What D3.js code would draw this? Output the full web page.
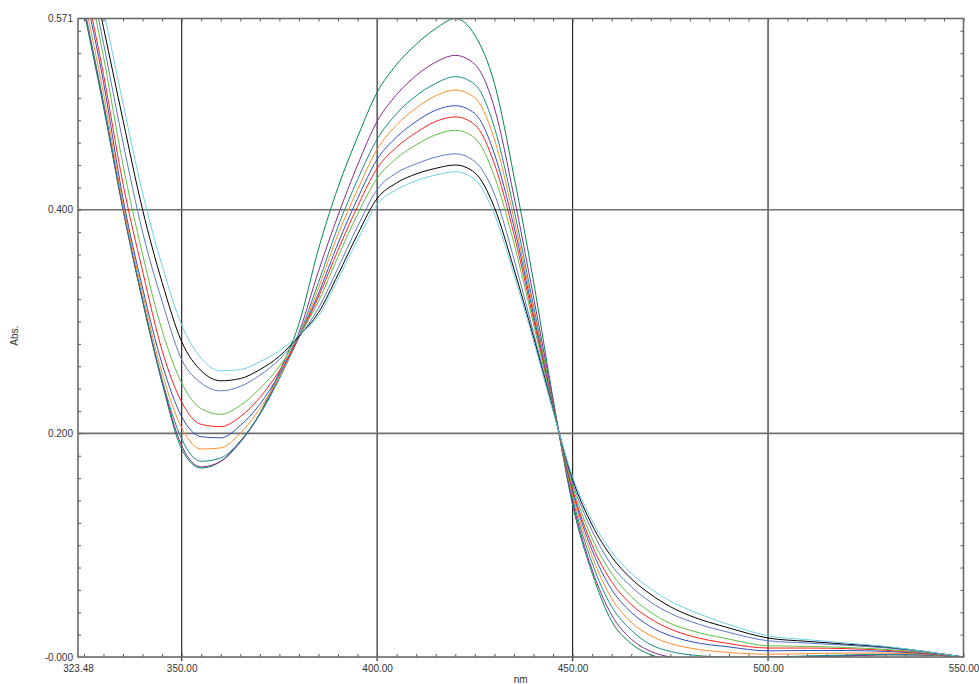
<!DOCTYPE html>
<html>
<head>
<meta charset="utf-8">
<script src="https://cdn.jsdelivr.net/npm/d3@7/dist/d3.min.js"></script>
<style>
  body { margin: 0; background: #fff; }
  svg text { font-family: "Liberation Sans", Arial, sans-serif; font-size: 10px; fill: #333; }
</style>
</head>
<body>
<div id="chart"></div>
<script>
// wavelength grid (nm) shared by every scan
const wavelengths = [320,325,330,335,340,345,350,355,360,365,370,375,380,385,390,395,400,405,410,415,420,425,430,435,440,445,450,455,460,465,470,475,480,490,500,510,520,530,540,550];

// absorbance of each scan
const absDarkGreen = [0.666,0.578,0.492,0.400,0.318,0.245,0.186,0.169,0.175,0.193,0.218,0.255,0.298,0.365,0.420,0.465,0.505,0.530,0.548,0.562,0.571,0.556,0.513,0.430,0.336,0.231,0.136,0.075,0.032,0.012,0.002,-0.002,-0.004,-0.004,-0.003,0.000,0.001,0.002,0.0018,0.000];
const absPurple    = [0.668,0.580,0.494,0.400,0.319,0.246,0.189,0.170,0.175,0.192,0.217,0.251,0.290,0.345,0.395,0.440,0.479,0.503,0.520,0.532,0.538,0.530,0.491,0.412,0.322,0.229,0.139,0.078,0.0375,0.016,0.005,0.000,-0.002,-0.002,-0.002,0.000,0.001,0.002,0.0018,0.000];
const absTeal      = [0.670,0.582,0.496,0.402,0.320,0.248,0.195,0.175,0.178,0.193,0.217,0.249,0.287,0.335,0.385,0.427,0.463,0.486,0.502,0.513,0.519,0.512,0.4735,0.400,0.314,0.226,0.142,0.084,0.045,0.024,0.011,0.005,0.002,0.000,0.000,0.001,0.0018,0.0025,0.002,0.000];
const absOrange    = [0.678,0.590,0.504,0.405,0.325,0.254,0.205,0.186,0.187,0.200,0.222,0.251,0.286,0.330,0.378,0.418,0.454,0.476,0.491,0.502,0.507,0.500,0.463,0.392,0.310,0.226,0.145,0.090,0.0524,0.031,0.019,0.012,0.008,0.004,0.0025,0.003,0.0035,0.0035,0.0025,0.000];
const absBlue      = [0.686,0.600,0.514,0.410,0.330,0.262,0.215,0.197,0.196,0.207,0.226,0.253,0.286,0.325,0.370,0.410,0.445,0.465,0.479,0.489,0.493,0.486,0.450,0.385,0.306,0.225,0.148,0.0955,0.0604,0.040,0.027,0.019,0.014,0.009,0.0055,0.0058,0.0058,0.005,0.003,0.000];
const absRed       = [0.693,0.607,0.521,0.423,0.345,0.274,0.228,0.208,0.206,0.215,0.232,0.256,0.286,0.322,0.364,0.403,0.437,0.456,0.469,0.479,0.483,0.476,0.441,0.378,0.302,0.224,0.150,0.100,0.0673,0.047,0.034,0.025,0.019,0.012,0.008,0.008,0.0075,0.006,0.0035,0.000];
const absGreen     = [0.707,0.622,0.537,0.440,0.360,0.292,0.245,0.222,0.217,0.225,0.240,0.260,0.287,0.318,0.358,0.396,0.428,0.446,0.458,0.467,0.471,0.464,0.430,0.370,0.298,0.223,0.153,0.106,0.0747,0.054,0.040,0.030,0.024,0.016,0.010,0.0095,0.0085,0.0068,0.004,0.000];
const absSteel     = [0.718,0.634,0.549,0.460,0.380,0.318,0.266,0.245,0.238,0.242,0.252,0.266,0.286,0.312,0.348,0.385,0.418,0.433,0.441,0.447,0.450,0.443,0.414,0.356,0.290,0.222,0.156,0.113,0.082,0.063,0.049,0.039,0.032,0.022,0.0145,0.0125,0.0105,0.0082,0.0045,0.000];
const absBlack     = [0.728,0.645,0.563,0.480,0.400,0.335,0.282,0.256,0.247,0.249,0.257,0.269,0.287,0.308,0.342,0.378,0.410,0.424,0.432,0.437,0.440,0.433,0.402,0.347,0.286,0.221,0.159,0.118,0.0896,0.070,0.056,0.045,0.037,0.026,0.017,0.014,0.0115,0.009,0.005,0.000];
const absCyan      = [0.745,0.662,0.579,0.495,0.415,0.350,0.297,0.267,0.256,0.257,0.264,0.274,0.288,0.305,0.338,0.373,0.405,0.418,0.426,0.431,0.434,0.427,0.396,0.342,0.283,0.220,0.161,0.122,0.094,0.075,0.061,0.050,0.042,0.029,0.019,0.0155,0.0125,0.0095,0.005,0.000];

const scans = [absDarkGreen, absPurple, absTeal, absOrange, absBlue, absRed, absGreen, absSteel, absBlack, absCyan];
const scanColors = ["#008850", "#8a2a94", "#1a8a8a", "#ff8c2a", "#2f4fc0", "#ff2020", "#5cc040", "#5a78c8", "#000000", "#6cd0e8"];

// axis ticks
const xTickValues = [323.48, 350, 400, 450, 500, 550];
const xTickLabels = ["323.48", "350.00", "400.00", "450.00", "500.00", "550.00"];
const yTickValues = [0, 0.2, 0.4, 0.571];
const yTickLabels = ["-0.000", "0.200", "0.400", "0.571"];
const xGrid = [350, 400, 450, 500];
const yGrid = [0.2, 0.4];

const margin = { left: 78, right: 15.5, top: 18.5, bottom: 27 };
const W = 979, H = 684;
const width = W - margin.left - margin.right;
const height = H - margin.top - margin.bottom;

const svg = d3.select("#chart")
  .append("svg")
    .attr("width", W)
    .attr("height", H)
  .append("g")
    .attr("transform", "translate(" + margin.left + "," + margin.top + ")");

const x = d3.scaleLinear().domain([323.48, 550]).range([0, width]);
const y = d3.scaleLinear().domain([0, 0.571]).range([height, 0]);

svg.append("clipPath").attr("id", "plot-clip")
  .append("rect").attr("width", width).attr("height", height);

// grid lines
svg.selectAll(".vgrid").data(xGrid).enter().append("line")
  .attr("x1", d => x(d)).attr("x2", d => x(d))
  .attr("y1", 0).attr("y2", height + 4)
  .attr("stroke", "#2a2a2a").attr("stroke-width", 1.2);

svg.selectAll(".hgrid").data(yGrid).enter().append("line")
  .attr("x1", 0).attr("x2", width)
  .attr("y1", d => y(d)).attr("y2", d => y(d))
  .attr("stroke", "#6e6e6e").attr("stroke-width", 1.6);

// minor ticks, pointing inward on all four sides
const xMinor = d3.range(325, 551, 5);
const yMinor = d3.range(1, 29).map(i => i * 0.02);

const minor = [
  { axis: d3.axisBottom(x), tr: "translate(0," + height + ")", v: xMinor },
  { axis: d3.axisTop(x), tr: "translate(0,0)", v: xMinor },
  { axis: d3.axisLeft(y), tr: "translate(0,0)", v: yMinor },
  { axis: d3.axisRight(y), tr: "translate(" + width + ",0)", v: yMinor }
];
minor.forEach(m => {
  const g = svg.append("g").attr("transform", m.tr)
    .call(m.axis.tickValues(m.v).tickSize(-3).tickFormat(""));
  g.select(".domain").remove();
  g.selectAll("line").attr("stroke", "#555");
});

// scans
const line = d3.line()
  .x((d, i) => x(wavelengths[i]))
  .y(d => y(d))
  .curve(d3.curveMonotoneX);

svg.append("g").attr("clip-path", "url(#plot-clip)")
  .selectAll("path").data(scans).enter().append("path")
    .attr("d", line)
    .attr("fill", "none")
    .attr("stroke", (d, i) => scanColors[i])
    .attr("stroke-width", 1);

// frame
svg.append("rect")
  .attr("width", width).attr("height", height)
  .attr("fill", "none").attr("stroke", "#6a6a6a").attr("stroke-width", 1.6);

// tick labels
const xAxisG = svg.append("g").attr("transform", "translate(0," + height + ")")
  .call(d3.axisBottom(x).tickValues(xTickValues).tickSize(0).tickPadding(8)
    .tickFormat((d, i) => xTickLabels[i]));
xAxisG.select(".domain").remove();

const yAxisG = svg.append("g")
  .call(d3.axisLeft(y).tickValues(yTickValues).tickSize(0).tickPadding(5)
    .tickFormat((d, i) => yTickLabels[i]));
yAxisG.select(".domain").remove();

svg.selectAll(".tick text").attr("font-family", null).attr("font-size", null).attr("fill", null);

// axis titles
svg.append("text")
  .attr("x", width / 2)
  .attr("y", height + 25.5)
  .attr("text-anchor", "middle")
  .attr("font-size", "9px")
  .text("nm");

svg.append("text")
  .attr("x", -(height / 2) + 2)
  .attr("y", -60)
  .attr("transform", "rotate(-90)")
  .attr("text-anchor", "middle")
  .attr("font-size", "9px")
  .text("Abs.");
</script>
</body>
</html>
